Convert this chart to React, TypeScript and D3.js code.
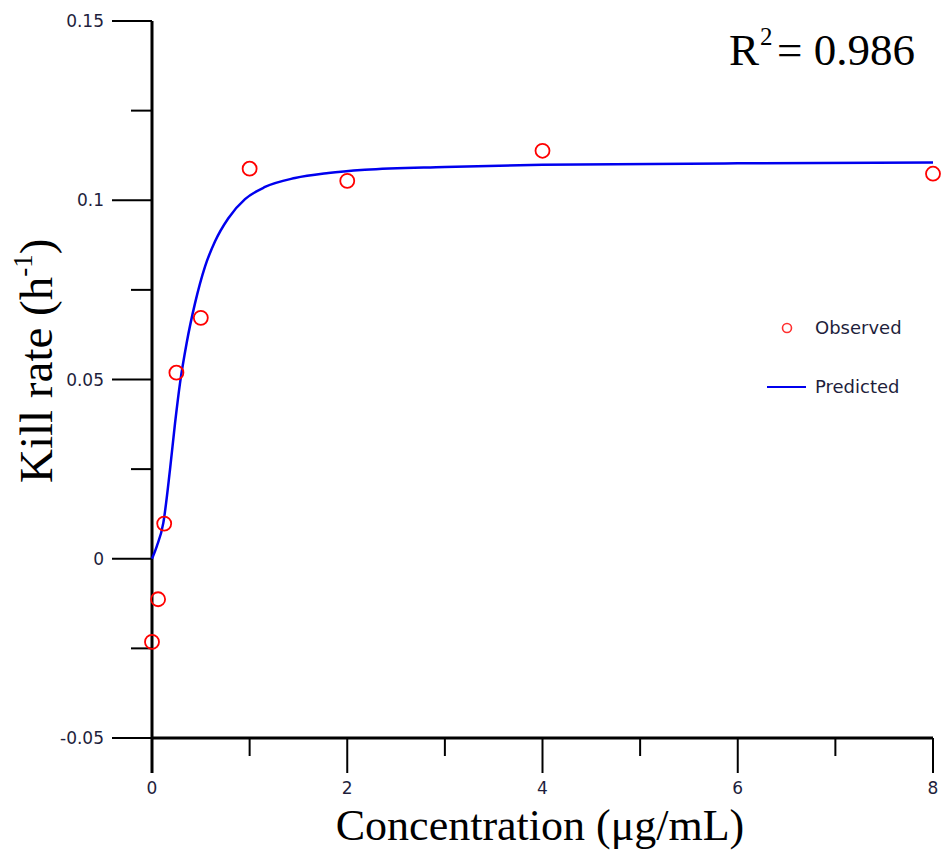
import React from "react";
import { scaleLinear, line, curveMonotoneX, range } from "d3";

// observed kill rates at each concentration
const concentrations = [0, 0.0625, 0.125, 0.25, 0.5, 1, 2, 4, 8];
const observed = [-0.0232, -0.0113, 0.0098, 0.0519, 0.0672, 0.1088, 0.1054, 0.1138, 0.1074];

// predicted curve
const predConc = [0, 0.048, 0.116, 0.184, 0.236, 0.287, 0.355, 0.441, 0.543, 0.645, 0.782, 0.953, 1.158, 1.465, 1.807, 2.18, 3, 4, 6, 8];
const predicted = [0, 0.0034, 0.01, 0.0248, 0.0378, 0.049, 0.0602, 0.0713, 0.0815, 0.0885, 0.095, 0.1003, 0.1037, 0.1062, 0.1076, 0.1085, 0.1093, 0.1099, 0.1103, 0.1105];

const xTicks = [0, 2, 4, 6, 8];
const xMinor = [1, 3, 5, 7];
const yTicks = [-0.05, 0, 0.05, 0.1, 0.15];
const yMinor = [-0.025, 0.025, 0.075, 0.125];

const W = 950;
const H = 858;

export default function App() {
  const x = scaleLinear().domain([0, 8]).range([152, 933]);
  const y = scaleLinear().domain([-0.05, 0.15]).range([738, 21]);

  const path = line<number>()
    .x((i) => x(predConc[i]))
    .y((i) => y(predicted[i]))
    .curve(curveMonotoneX)(range(predConc.length));

  const tickFont = "'DejaVu Sans', Verdana, sans-serif";
  const tickColor = "#1e1e3c";
  const serif = "'Liberation Serif', 'Times New Roman', serif";

  return (
    <svg width={W} height={H} style={{ position: "absolute", left: 0, top: 0, background: "#fff" }}>
      {/* y axis */}
      <line x1={x(0)} x2={x(0)} y1={y(0.15)} y2={y(-0.05) + 35} stroke="#000" strokeWidth={3} />
      {yTicks.map((t) => (
        <g key={t}>
          <line x1={x(0) - 40} x2={x(0)} y1={y(t)} y2={y(t)} stroke="#000" strokeWidth={2} />
          <text x={104} y={y(t)} dy="0.36em" textAnchor="end" fontFamily={tickFont} fontSize={17} fill={tickColor}>
            {t === 0 ? "0" : String(t)}
          </text>
        </g>
      ))}
      {yMinor.map((t) => (
        <line key={t} x1={x(0) - 21} x2={x(0)} y1={y(t)} y2={y(t)} stroke="#000" strokeWidth={2} />
      ))}

      {/* x axis */}
      <line x1={x(0)} x2={x(8)} y1={y(-0.05)} y2={y(-0.05)} stroke="#000" strokeWidth={3} />
      {xTicks.map((t) => (
        <g key={t}>
          <line x1={x(t)} x2={x(t)} y1={y(-0.05)} y2={y(-0.05) + 35} stroke="#000" strokeWidth={2} />
          <text x={x(t)} y={788} dy="0.36em" textAnchor="middle" fontFamily={tickFont} fontSize={17} fill={tickColor}>
            {t}
          </text>
        </g>
      ))}
      {xMinor.map((t) => (
        <line key={t} x1={x(t)} x2={x(t)} y1={y(-0.05)} y2={y(-0.05) + 18} stroke="#000" strokeWidth={2} />
      ))}

      {/* predicted curve */}
      <path d={path ?? ""} fill="none" stroke="#0000ee" strokeWidth={2.5} />

      {/* observed points */}
      {concentrations.map((c, i) => (
        <circle key={c} cx={x(c)} cy={y(observed[i])} r={7} fill="none" stroke="#ff0000" strokeWidth={1.8} />
      ))}

      {/* legend */}
      <circle cx={787} cy={328} r={4.5} fill="none" stroke="#ff3030" strokeWidth={1.6} />
      <text x={815} y={334} fontFamily={tickFont} fontSize={18} fill={tickColor}>Observed</text>
      <line x1={767} x2={806} y1={387} y2={387} stroke="#0000ee" strokeWidth={2} />
      <text x={815} y={393} fontFamily={tickFont} fontSize={18} fill={tickColor}>Predicted</text>

      {/* R squared */}
      <text y={65} fontFamily={serif} fontSize={45} fill="#000">
        <tspan x={729}>R</tspan>
        <tspan x={760} y={45} fontSize={25}>2</tspan>
        <tspan x={777} y={65}>= 0.986</tspan>
      </text>

      {/* axis titles */}
      <text x={540} y={840} textAnchor="middle" fontFamily={serif} fontSize={44} fill="#000">
        Concentration (μg/mL)
      </text>
      <text transform={`translate(52, 483) rotate(-90)`} fontFamily={serif} fontSize={47} fill="#000">
        Kill rate (h<tspan fontSize={27} dy={-20}>-1</tspan><tspan dy={20}>)</tspan>
      </text>
    </svg>
  );
}
